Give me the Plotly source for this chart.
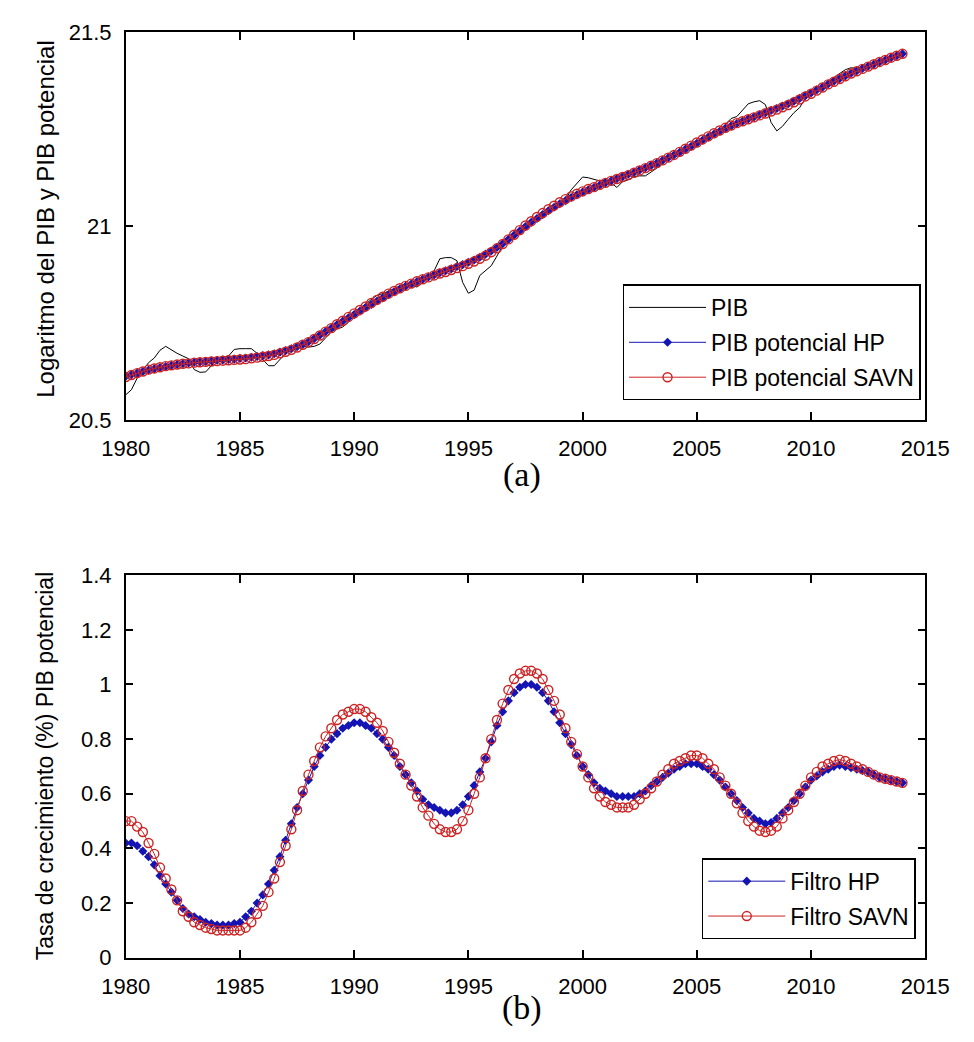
import plotly.graph_objects as go

# Quarterly time axis 1980Q1 .. 2014Q1
t = [1980 + q / 4 for q in range(137)]

pib = [
    20.565, 20.578, 20.608, 20.628, 20.648, 20.660, 20.680, 20.690,
    20.680, 20.672, 20.665, 20.658, 20.630, 20.623, 20.624, 20.640,
    20.656, 20.662, 20.665, 20.682, 20.684, 20.684, 20.684, 20.672,
    20.655, 20.640, 20.640, 20.655, 20.672, 20.680, 20.688, 20.690,
    20.688, 20.690, 20.696, 20.712, 20.728, 20.735, 20.740, 20.752,
    20.772, 20.788, 20.800, 20.812, 20.822, 20.826, 20.832, 20.838,
    20.845, 20.852, 20.848, 20.843, 20.855, 20.868, 20.885, 20.916,
    20.919, 20.919, 20.911, 20.855, 20.827, 20.835, 20.873, 20.885,
    20.898, 20.923, 20.950, 20.964, 20.975, 20.985, 20.997, 21.010,
    21.020, 21.030, 21.040, 21.048, 21.056, 21.069, 21.094, 21.112,
    21.127, 21.125, 21.120, 21.117, 21.120, 21.112, 21.100, 21.115,
    21.120, 21.128, 21.130, 21.130, 21.140, 21.150, 21.165, 21.178,
    21.182, 21.188, 21.196, 21.205, 21.213, 21.222, 21.231, 21.240,
    21.248, 21.263, 21.278, 21.283, 21.301, 21.316, 21.321, 21.324,
    21.314, 21.268, 21.246, 21.258, 21.276, 21.293, 21.306, 21.330,
    21.344, 21.352, 21.360, 21.370, 21.384, 21.394, 21.404, 21.409,
    21.407, 21.410, 21.415, 21.420, 21.424, 21.429, 21.435, 21.440,
    21.445,
]

pot_hp = [
    20.613, 20.617, 20.621, 20.625, 20.629, 20.632, 20.635, 20.638,
    20.641, 20.643, 20.645, 20.647, 20.649, 20.650, 20.651, 20.653,
    20.654, 20.655, 20.656, 20.657, 20.659, 20.660, 20.662, 20.664,
    20.666, 20.668, 20.671, 20.675, 20.679, 20.684, 20.689, 20.695,
    20.702, 20.710, 20.719, 20.728, 20.737, 20.746, 20.755, 20.764,
    20.772, 20.781, 20.790, 20.798, 20.807, 20.815, 20.823, 20.831,
    20.838, 20.845, 20.851, 20.857, 20.863, 20.869, 20.874, 20.880,
    20.885, 20.890, 20.896, 20.901, 20.907, 20.913, 20.920, 20.928,
    20.936, 20.945, 20.955, 20.966, 20.977, 20.988, 20.999, 21.010,
    21.020, 21.030, 21.040, 21.049, 21.058, 21.066, 21.074, 21.081,
    21.088, 21.094, 21.100, 21.106, 21.112, 21.117, 21.123, 21.128,
    21.134, 21.139, 21.145, 21.151, 21.157, 21.163, 21.170, 21.177,
    21.184, 21.191, 21.199, 21.206, 21.214, 21.222, 21.230, 21.238,
    21.245, 21.252, 21.259, 21.265, 21.271, 21.277, 21.282, 21.288,
    21.293, 21.299, 21.304, 21.310, 21.316, 21.323, 21.330, 21.337,
    21.344, 21.352, 21.359, 21.367, 21.374, 21.381, 21.388, 21.395,
    21.401, 21.407, 21.413, 21.418, 21.424, 21.429, 21.435, 21.440,
    21.445,
]

pot_savn = [
    20.611, 20.616, 20.621, 20.625, 20.630, 20.633, 20.636, 20.639,
    20.641, 20.643, 20.645, 20.646, 20.648, 20.649, 20.650, 20.651,
    20.652, 20.653, 20.654, 20.655, 20.656, 20.657, 20.659, 20.661,
    20.663, 20.665, 20.668, 20.672, 20.676, 20.681, 20.687, 20.694,
    20.701, 20.709, 20.718, 20.728, 20.737, 20.747, 20.756, 20.766,
    20.775, 20.784, 20.793, 20.802, 20.810, 20.818, 20.826, 20.833,
    20.840, 20.846, 20.852, 20.858, 20.863, 20.868, 20.873, 20.878,
    20.882, 20.887, 20.892, 20.897, 20.903, 20.909, 20.916, 20.924,
    20.933, 20.943, 20.954, 20.966, 20.978, 20.990, 21.002, 21.013,
    21.024, 21.034, 21.044, 21.053, 21.062, 21.070, 21.077, 21.084,
    21.090, 21.096, 21.101, 21.107, 21.112, 21.117, 21.122, 21.127,
    21.132, 21.138, 21.144, 21.150, 21.156, 21.163, 21.170, 21.177,
    21.184, 21.192, 21.200, 21.208, 21.216, 21.224, 21.232, 21.240,
    21.247, 21.254, 21.260, 21.266, 21.271, 21.276, 21.281, 21.286,
    21.291, 21.296, 21.301, 21.307, 21.313, 21.320, 21.327, 21.335,
    21.342, 21.350, 21.358, 21.366, 21.373, 21.380, 21.387, 21.394,
    21.400, 21.406, 21.412, 21.418, 21.424, 21.429, 21.435, 21.440,
    21.445,
]

growth_hp = [
    0.42, 0.42, 0.41, 0.39, 0.37, 0.34, 0.30, 0.27,
    0.24, 0.21, 0.18, 0.16, 0.15, 0.14, 0.13, 0.125,
    0.12, 0.12, 0.12, 0.125, 0.13, 0.15, 0.17, 0.20,
    0.23, 0.27, 0.32, 0.37, 0.43, 0.49, 0.55, 0.60,
    0.65, 0.70, 0.74, 0.77, 0.80, 0.82, 0.84, 0.85,
    0.86, 0.86, 0.85, 0.84, 0.82, 0.80, 0.77, 0.74,
    0.70, 0.67, 0.64, 0.61, 0.58, 0.56, 0.55, 0.54,
    0.53, 0.53, 0.54, 0.56, 0.59, 0.63, 0.68, 0.73,
    0.79, 0.85, 0.90, 0.94, 0.97, 0.99, 1.00, 1.00,
    0.99, 0.97, 0.94, 0.90, 0.86, 0.82, 0.78, 0.74,
    0.70, 0.67, 0.64, 0.62, 0.61, 0.60, 0.59, 0.59,
    0.59, 0.59, 0.60, 0.61, 0.63, 0.645, 0.66, 0.675,
    0.69, 0.70, 0.71, 0.71, 0.71, 0.70, 0.69, 0.67,
    0.65, 0.625, 0.60, 0.575, 0.55, 0.53, 0.51, 0.50,
    0.49, 0.495, 0.51, 0.53, 0.55, 0.575, 0.60, 0.625,
    0.65, 0.665, 0.68, 0.69, 0.70, 0.705, 0.70, 0.695,
    0.69, 0.685, 0.68, 0.67, 0.66, 0.655, 0.65, 0.645,
    0.64,
]

growth_savn = [
    0.50, 0.50, 0.48, 0.46, 0.42, 0.38, 0.33, 0.29,
    0.25, 0.21, 0.17, 0.15, 0.13, 0.12, 0.11, 0.105,
    0.10, 0.10, 0.10, 0.10, 0.10, 0.11, 0.13, 0.16,
    0.19, 0.24, 0.29, 0.35, 0.41, 0.47, 0.54, 0.61,
    0.67, 0.72, 0.77, 0.81, 0.84, 0.87, 0.89, 0.90,
    0.91, 0.91, 0.90, 0.88, 0.86, 0.83, 0.79, 0.75,
    0.71, 0.67, 0.63, 0.59, 0.55, 0.52, 0.49, 0.47,
    0.46, 0.46, 0.47, 0.50, 0.54, 0.60, 0.66, 0.73,
    0.80, 0.87, 0.93, 0.98, 1.02, 1.04, 1.05, 1.05,
    1.04, 1.02, 0.98, 0.94, 0.89, 0.84, 0.79, 0.745,
    0.70, 0.66, 0.62, 0.59, 0.57, 0.56, 0.55, 0.55,
    0.55, 0.56, 0.58, 0.60, 0.62, 0.645, 0.67, 0.69,
    0.71, 0.72, 0.73, 0.74, 0.74, 0.73, 0.71, 0.69,
    0.66, 0.63, 0.60, 0.565, 0.53, 0.50, 0.48, 0.465,
    0.46, 0.465, 0.48, 0.51, 0.54, 0.57, 0.60, 0.63,
    0.66, 0.68, 0.70, 0.71, 0.72, 0.725, 0.72, 0.71,
    0.70, 0.69, 0.68, 0.67, 0.66, 0.655, 0.65, 0.645,
    0.64,
]

BLUE = "#1414b4"
RED = "#cc2424"
FONT = "Liberation Sans"
W, H = 974, 1042

hp_marker = dict(symbol="diamond", size=7, color=BLUE)
savn_marker = dict(symbol="circle-open", size=9, color=RED, line=dict(width=1.4, color=RED))

fig = go.Figure()

# Panel (a)
fig.add_trace(go.Scatter(x=t, y=pib, mode="lines", name="PIB",
                         line=dict(color="black", width=1), legend="legend",
                         legendgroup="a1", xaxis="x", yaxis="y"))
fig.add_trace(go.Scatter(x=t, y=pot_hp, mode="lines+markers", name="PIB potencial HP",
                         line=dict(color=BLUE, width=1), marker=hp_marker,
                         legend="legend", legendgroup="a2", xaxis="x", yaxis="y"))
fig.add_trace(go.Scatter(x=t, y=pot_savn, mode="lines+markers", name="PIB potencial SAVN",
                         line=dict(color=RED, width=1), marker=savn_marker,
                         legend="legend", legendgroup="a3", xaxis="x", yaxis="y"))

# Panel (b)
fig.add_trace(go.Scatter(x=t, y=growth_hp, mode="lines+markers", name="Filtro HP",
                         line=dict(color=BLUE, width=1), marker=hp_marker,
                         legend="legend2", legendgroup="b1", xaxis="x2", yaxis="y2"))
fig.add_trace(go.Scatter(x=t, y=growth_savn, mode="lines+markers", name="Filtro SAVN",
                         line=dict(color=RED, width=1), marker=savn_marker,
                         legend="legend2", legendgroup="b2", xaxis="x2", yaxis="y2"))

axis_common = dict(showline=True, linecolor="black", linewidth=1.5, mirror="ticks",
                   ticks="inside", ticklen=8, tickwidth=1.5, tickcolor="black",
                   showgrid=False, zeroline=False, ticklabelstandoff=8,
                   tickfont=dict(family=FONT, size=22, color="black"))

legend_common = dict(xanchor="right", yanchor="bottom", bgcolor="white",
                     bordercolor="black", borderwidth=1.5,
                     font=dict(family=FONT, size=23, color="black"),
                     itemwidth=77, tracegroupgap=2)

xdom = [107 / W, 948 / W]
fig.update_layout(
    width=W, height=H,
    margin=dict(l=0, r=0, t=0, b=0),
    paper_bgcolor="white", plot_bgcolor="white",
    xaxis=dict(domain=xdom, range=[1980, 2015], tick0=1980, dtick=5, anchor="y",
               **axis_common),
    yaxis=dict(domain=[1 - 418 / H, 1 - 21 / H], range=[20.5, 21.5],
               tickvals=[20.5, 21, 21.5], ticktext=["20.5", "21", "21.5"],
               anchor="x", **axis_common),
    xaxis2=dict(domain=xdom, range=[1980, 2015], tick0=1980, dtick=5, anchor="y2",
                **axis_common),
    yaxis2=dict(domain=[1 - 969 / H, 1 - 577 / H], range=[0, 1.4],
                tickvals=[0, 0.2, 0.4, 0.6, 0.8, 1, 1.2, 1.4],
                ticktext=["0", "0.2", "0.4", "0.6", "0.8", "1", "1.2", "1.4"],
                anchor="x2", **axis_common),
    legend=dict(x=943 / W, y=1 - 398 / H, **legend_common),
    legend2=dict(x=938 / W, y=1 - 950 / H, **legend_common),
    showlegend=True,
    annotations=[
        dict(text="Logaritmo del PIB y PIB potencial", x=23 / W, y=1 - 212 / H,
             xref="paper", yref="paper", xanchor="center", yanchor="middle",
             showarrow=False, textangle=-90,
             font=dict(family=FONT, size=24, color="black")),
        dict(text="Tasa de crecimiento (%) PIB potencial", x=23 / W, y=1 - 772 / H,
             xref="paper", yref="paper", xanchor="center", yanchor="middle",
             showarrow=False, textangle=-90,
             font=dict(family=FONT, size=23, color="black")),
        dict(text="(a)", x=524 / W, y=1 - 474 / H, xref="paper", yref="paper",
             xanchor="center", yanchor="middle", showarrow=False,
             font=dict(family="Liberation Serif", size=34, color="black")),
        dict(text="(b)", x=524 / W, y=1 - 1020 / H, xref="paper", yref="paper",
             xanchor="center", yanchor="middle", showarrow=False,
             font=dict(family="Liberation Serif", size=34, color="black")),
    ],
)

fig.write_html("out.html")
